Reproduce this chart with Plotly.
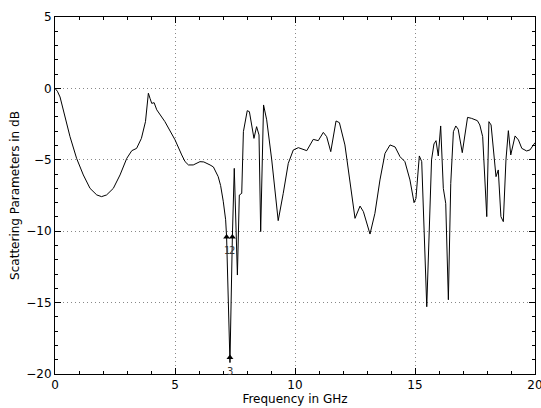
import plotly.graph_objects as go

freq = [0, 0.1, 0.21, 0.42, 0.625, 0.9, 1.18, 1.46, 1.74, 1.94, 2.15, 2.43, 2.71, 2.99,
        3.2, 3.4, 3.6, 3.77, 3.89, 3.96, 4.03, 4.13, 4.24, 4.58, 4.93, 5.0, 5.28, 5.42,
        5.56, 5.76, 6.04, 6.2, 6.46, 6.6, 6.8, 6.9, 7.01, 7.11, 7.15, 7.29, 7.39, 7.47,
        7.6, 7.68, 7.78, 7.85, 8.01, 8.1, 8.29, 8.4, 8.5, 8.57, 8.69, 8.82, 9.03, 9.3,
        9.51, 9.72, 9.93, 10.14, 10.49, 10.76, 10.97, 11.18, 11.32, 11.49, 11.71, 11.85,
        12.08, 12.29, 12.5, 12.71, 12.85, 13.125, 13.33, 13.54, 13.75, 13.96, 14.17,
        14.375, 14.58, 14.79, 14.96, 15.04, 15.18, 15.28, 15.49, 15.69, 15.79, 15.875,
        15.97, 16.07, 16.18, 16.28, 16.39, 16.49, 16.6, 16.7, 16.8, 16.97, 17.08, 17.19,
        17.36, 17.6, 17.7, 17.82, 17.99, 18.08, 18.17, 18.26, 18.375, 18.47, 18.58,
        18.68, 18.79, 18.89, 18.99, 19.17, 19.31, 19.45, 19.65, 19.79, 19.96, 20]
s_db = [0, -0.2, -0.6, -1.98, -3.38, -4.9, -6.06, -7.0, -7.46, -7.58, -7.46, -7.0, -6.06,
        -4.9, -4.36, -4.2, -3.5, -2.33, -0.34, -0.7, -1.05, -1.0, -1.5, -2.33, -3.38,
        -3.6, -4.66, -5.13, -5.36, -5.36, -5.13, -5.15, -5.36, -5.5, -6.18, -6.8, -7.9,
        -9.2, -10.4, -19.2, -10.4, -5.6, -13.07, -7.47, -7.35, -3.03, -1.56, -1.63,
        -3.5, -2.68, -3.26, -10.03, -1.16, -2.2, -5.0, -9.26, -7.35, -5.25, -4.31,
        -4.15, -4.36, -3.57, -3.66, -3.08, -3.38, -4.43, -2.28, -2.4, -3.96, -6.41,
        -9.1, -8.24, -8.63, -10.2, -8.75, -6.41, -4.55, -3.96, -4.1, -4.78, -5.13,
        -6.41, -8.0, -7.7, -4.73, -5.13, -15.29, -5.0, -3.89, -3.66, -4.73, -2.63,
        -7.0, -8.05, -14.8, -6.65, -3.03, -2.63, -2.86, -4.5, -3.15, -2.03, -2.1,
        -2.26, -2.56, -3.38, -8.98, -2.33, -2.56, -3.96, -6.18, -5.71, -8.98, -9.33,
        -5.0, -2.96, -4.66, -3.33, -3.61, -4.2, -4.38, -4.31, -3.92, -3.8]

marker_freq = [7.15, 7.39, 7.29]
marker_db = [-10.4, -10.4, -18.85]
marker_labels = ["1", "2", "3"]

fig = go.Figure()
fig.add_trace(go.Scatter(x=freq, y=s_db, mode="lines",
                         line=dict(color="black", width=1), showlegend=False))
fig.add_trace(go.Scatter(x=marker_freq, y=marker_db, mode="markers",
                         marker=dict(symbol="triangle-up", size=6, color="black"),
                         showlegend=False, cliponaxis=False))
for mx, my, lab in zip(marker_freq, marker_db, marker_labels):
    fig.add_annotation(x=mx, y=my, text=lab, showarrow=False, yshift=-14,
                       font=dict(size=10, color="#333333", family="DejaVu Sans"))

axis_common = dict(
    showline=True, linecolor="black", linewidth=1, mirror="allticks",
    ticks="inside", ticklen=6, tickcolor="black", tickwidth=1,
    showgrid=True, gridcolor="#888888", griddash="1px,3px", gridwidth=1,
    zeroline=False, automargin=False, ticklabeloverflow="allow",
    tickfont=dict(family="DejaVu Sans", size=12, color="black"),
    minor=dict(dtick=1, ticks="inside", ticklen=3, tickcolor="black", showgrid=False),
)

fig.update_layout(
    width=541, height=408,
    margin=dict(l=55, r=6, t=17, b=34),
    paper_bgcolor="white", plot_bgcolor="white",
    font=dict(family="DejaVu Sans", size=12, color="black"),
    xaxis=dict(range=[0, 20], dtick=5, tick0=0,
               title=dict(text="Frequency in GHz", standoff=2,
                          font=dict(size=12)), **axis_common),
    yaxis=dict(range=[-20, 5], dtick=5, tick0=0,
               title=dict(text="Scattering Parameters in dB", standoff=4,
                          font=dict(size=12)), **axis_common),
)

fig.write_html("out.html", config={"displayModeBar": False},
               post_script="document.body.style.margin='0px';"
                           "document.body.style.overflow='hidden';")
